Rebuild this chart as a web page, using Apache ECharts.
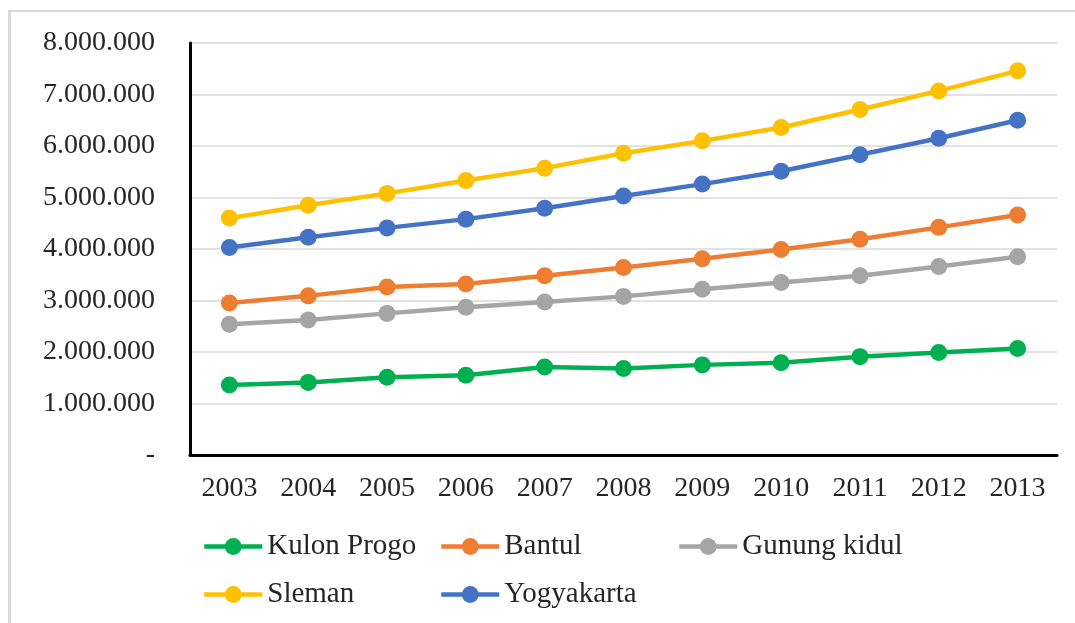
<!DOCTYPE html>
<html>
<head>
<meta charset="utf-8">
<script src="https://cdn.jsdelivr.net/npm/echarts@6/dist/echarts.min.js"></script>
<style>
  body { margin: 0; background: #fff; }
  #wrap { position: relative; width: 1075px; height: 623px; overflow: hidden; }
  #frame { position: absolute; left: 8px; top: 10px; width: 1200px; height: 800px;
           border-top: 2px solid #d9d9d9; border-left: 3px solid #d9d9d9; }
  #chart { position: absolute; left: 0; top: 0; width: 1075px; height: 623px; }
</style>
</head>
<body>
<div id="wrap">
  <div id="frame"></div>
  <div id="chart"></div>
</div>
<script>
const years = ['2003', '2004', '2005', '2006', '2007', '2008', '2009', '2010', '2011', '2012', '2013'];
const kulonProgo = [1360000, 1410000, 1510000, 1550000, 1710000, 1680000, 1750000, 1790000, 1910000, 1990000, 2070000];
const bantul = [2950000, 3090000, 3260000, 3320000, 3480000, 3640000, 3810000, 3990000, 4190000, 4420000, 4660000];
const gunungKidul = [2540000, 2620000, 2750000, 2870000, 2970000, 3080000, 3220000, 3350000, 3480000, 3660000, 3850000];
const sleman = [4600000, 4850000, 5080000, 5330000, 5570000, 5860000, 6100000, 6360000, 6710000, 7070000, 7460000];
const yogyakarta = [4030000, 4230000, 4410000, 4580000, 4790000, 5030000, 5260000, 5510000, 5830000, 6150000, 6500000];

const font = 'Liberation Serif';
const txt = '#262626';

function fmt(v) {
    if (v === 0) return '-';
    return String(v).replace(/\B(?=(\d{3})+(?!\d))/g, '.');
}

function line(name, data, color) {
    return {
        name: name,
        type: 'line',
        data: data,
        symbol: 'circle',
        symbolSize: 17,
        lineStyle: { color: color, width: 4.5 },
        itemStyle: { color: color },
        emphasis: { disabled: true }
    };
}

// legend laid out in a 3-column grid, one legend per entry
function legendAt(name, left, top) {
    return {
        data: [name],
        left: left,
        top: top,
        padding: 0,
        itemWidth: 58,
        itemHeight: 21,
        itemGap: 5,
        lineStyle: { width: 4.5 },
        textStyle: { fontSize: 29, fontFamily: font, color: txt }
    };
}

const chart = echarts.init(document.getElementById('chart'));
chart.setOption({
    animation: false,
    grid: { left: 190, right: 18, top: 43, bottom: 168 },
    xAxis: {
        type: 'category',
        data: years,
        axisLine: { lineStyle: { color: '#000', width: 3 } },
        axisTick: { show: false },
        axisLabel: { color: txt, fontFamily: font, fontSize: 28, margin: 20 }
    },
    yAxis: {
        type: 'value',
        min: 0,
        max: 8000000,
        interval: 1000000,
        axisLine: { show: true, lineStyle: { color: '#000', width: 3 } },
        axisTick: { show: false },
        splitLine: { lineStyle: { color: '#d9d9d9', width: 1.5 } },
        axisLabel: { color: txt, fontFamily: font, fontSize: 28, margin: 35, formatter: fmt }
    },
    legend: [
        legendAt('Kulon Progo', 202, 532),
        legendAt('Bantul', 439, 532),
        legendAt('Gunung kidul', 677, 532),
        legendAt('Sleman', 202, 580),
        legendAt('Yogyakarta', 439, 580)
    ],
    series: [
        line('Kulon Progo', kulonProgo, '#00b050'),
        line('Bantul', bantul, '#ed7d31'),
        line('Gunung kidul', gunungKidul, '#a5a5a5'),
        line('Sleman', sleman, '#ffc000'),
        line('Yogyakarta', yogyakarta, '#4472c4')
    ]
});
</script>
</body>
</html>
